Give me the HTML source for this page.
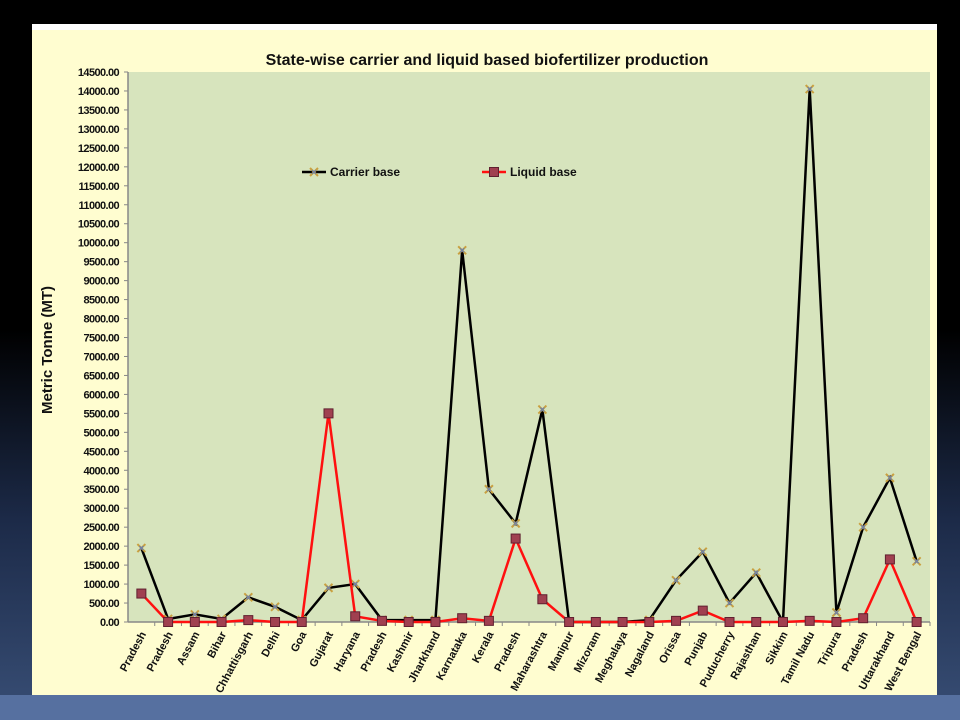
<!DOCTYPE html>
<html><head><meta charset="utf-8"><style>
body{margin:0;width:960px;height:720px;overflow:hidden;background:linear-gradient(180deg,#000 0px,#000 330px,#1c2a48 520px,#34496f 690px);position:relative;font-family:"Liberation Sans",sans-serif}
#bottom{position:absolute;left:0;top:695px;width:960px;height:25px;background:#5670a0}
#panel{position:absolute;left:32px;top:24px;width:905px;height:671px;background:#fffdd0;border-top:6px solid #fff;box-sizing:border-box;overflow:hidden}
</style></head><body>
<div id="bottom"></div>
<div id="panel">
<svg id="chart" width="905" height="671" viewBox="32 24 905 671" style="position:absolute;left:0;top:-6px"></svg>
</div>
<script>
const categories=["Andhra Pradesh","Arunachal Pradesh","Assam","Bihar","Chhattisgarh","Delhi","Goa","Gujarat","Haryana","Himachal Pradesh","Jammu Kashmir","Jharkhand","Karnataka","Kerala","Madhya Pradesh","Maharashtra","Manipur","Mizoram","Meghalaya","Nagaland","Orissa","Punjab","Puducherry","Rajasthan","Sikkim","Tamil Nadu","Tripura","Uttar Pradesh","Uttarakhand","West Bengal"];
const carrier=[1950,80,200,80,650,400,50,900,1000,50,50,50,9800,3500,2600,5600,0,0,0,50,1100,1850,500,1300,0,14050,250,2500,3800,1600];
const liquid=[750,0,0,0,50,0,0,5500,150,30,0,0,100,30,2200,600,0,0,0,0,30,300,0,0,0,30,0,100,1650,0];
const yTicks=[0,500,1000,1500,2000,2500,3000,3500,4000,4500,5000,5500,6000,6500,7000,7500,8000,8500,9000,9500,10000,10500,11000,11500,12000,12500,13000,13500,14000,14500];
const NS="http://www.w3.org/2000/svg",svg=document.getElementById('chart');
const X0=128,X1=930,Y0=622,Y1=72,YMAX=14500;
const bw=(X1-X0)/categories.length;
const x=i=>X0+bw*(i+0.5), y=v=>Y0-(v/YMAX)*(Y0-Y1);
function el(t,a,p){const e=document.createElementNS(NS,t);for(const k in a)e.setAttribute(k,a[k]);(p||svg).appendChild(e);return e;}
let r=el('rect',{x:X0,y:Y1,width:X1-X0,height:Y0-Y1,fill:'#d7e4bd'});

let t=el('text',{x:487,y:65,'text-anchor':'middle','font-size':'16','font-weight':'bold',fill:'#111'});t.textContent='State-wise carrier and liquid based  biofertilizer production';

t=el('text',{x:0,y:0,'text-anchor':'middle','font-size':'15','font-weight':'bold',fill:'#111',transform:'translate(52,350) rotate(-90)'});t.textContent='Metric Tonne (MT)';

let ax=el('line',{x1:X0,y1:Y1,x2:X0,y2:Y0,stroke:'#888','stroke-width':1.5});

ax=el('line',{x1:X0,y1:Y0,x2:X1,y2:Y0,stroke:'#888','stroke-width':1.5});

yTicks.forEach(v=>{el('line',{x1:X0-4,y1:y(v),x2:X0,y2:y(v),stroke:'#888'});
 const l=el('text',{x:X0-9,y:y(v)+4,'text-anchor':'end','font-size':'11','font-weight':'bold',fill:'#111','letter-spacing':'-0.6'});l.textContent=v.toFixed(2);
 });
categories.forEach((c,i)=>{const tx=X0+bw*(i+1);el('line',{x1:tx,y1:Y0,x2:tx,y2:Y0+4,stroke:'#888'});
 const words=c.split(' ');const s=words.length>1&&i!==25&&i!==29?words[words.length-1]:(i===25?'Tamil Nadu':i===29?'West Bengal':c);
 const l=el('text',{x:0,y:0,'text-anchor':'end','font-size':'11','font-weight':'bold',fill:'#111',transform:`translate(${x(i)+5},${Y0+12}) rotate(-62)`});l.textContent=s;
 });
function series(vals,color,name,mk){
 const p=el('polyline',{points:vals.map((v,i)=>x(i)+','+y(v)).join(' '),fill:'none',stroke:color,'stroke-width':2.5});
 
 vals.forEach((v,i)=>{const g=el('g',{});mk(g,x(i),y(v));});
}
const mkX=(g,cx,cy)=>{el('path',{d:`M${cx-4},${cy-4}L${cx+4},${cy+4}M${cx+4},${cy-4}L${cx-4},${cy+4}`,stroke:'#c9a040','stroke-width':2},g);el('path',{d:`M${cx-2},${cy-2}L${cx+2},${cy+2}M${cx+2},${cy-2}L${cx-2},${cy+2}`,stroke:'#6a80b0','stroke-width':1.2},g);};
const mkS=(g,cx,cy)=>{el('rect',{x:cx-4.5,y:cy-4.5,width:9,height:9,fill:'#a04050',stroke:'#602030','stroke-width':1},g);};
series(carrier,'#000','carrier-base',mkX);
series(liquid,'#ff1010','liquid-base',mkS);
let lg=el('g',{});
el('line',{x1:302,y1:172,x2:326,y2:172,stroke:'#000','stroke-width':2.5},lg);mkX(lg,314,172);
t=el('text',{x:330,y:176,'font-size':'12','font-weight':'bold',fill:'#111'},lg);t.textContent='Carrier base';
lg=el('g',{});
el('line',{x1:482,y1:172,x2:506,y2:172,stroke:'#ff1010','stroke-width':2.5},lg);mkS(lg,494,172);
t=el('text',{x:510,y:176,'font-size':'12','font-weight':'bold',fill:'#111'},lg);t.textContent='Liquid base';
</script>
</body></html>
